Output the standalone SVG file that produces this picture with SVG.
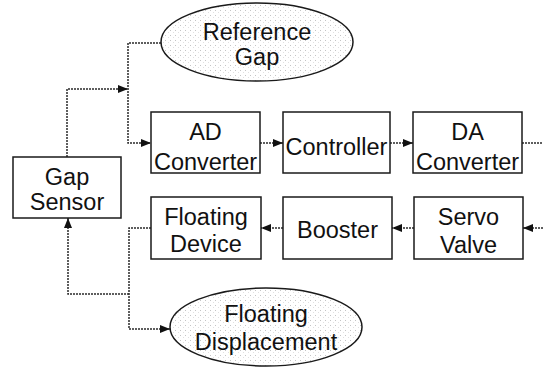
<svg xmlns="http://www.w3.org/2000/svg" width="543" height="367" viewBox="0 0 543 367">
  <defs>
    <!-- sparse stipple used inside the ellipses -->
    <pattern id="stipple" width="5" height="5" patternUnits="userSpaceOnUse">
      <rect width="5" height="5" fill="#ffffff"/>
      <rect x="0" y="0" width="1" height="1" fill="#c4c4c4"/>
      <rect x="3" y="2" width="1" height="1" fill="#e0e0e0"/>
    </pattern>
    <marker id="arrow" viewBox="0 0 10 8" refX="10" refY="4" markerWidth="10" markerHeight="8" markerUnits="userSpaceOnUse" orient="auto">
      <path d="M0,0 L10,4 L0,8 Z" fill="#111"/>
    </marker>
  </defs>
  <style>
    .box { fill: #fff; stroke: #1a1a1a; stroke-width: 1.5; }
    .oval { fill: url(#stipple); stroke: #1a1a1a; stroke-width: 1.5; }
    .label { font-family: "Liberation Sans", Arial, sans-serif; font-size: 23.5px; fill: #111; text-anchor: middle; }
    .link { fill: none; stroke: #2a2a2a; stroke-width: 1.5; stroke-dasharray: 2 1; }
  </style>

  <rect width="543" height="367" fill="#ffffff"/>

  <!-- connectors -->
  <g id="connectors">
    <path class="link" d="M67,157 V89 H128" marker-end="url(#arrow)"/>
    <path class="link" d="M161,43 H128 V143 H151" marker-end="url(#arrow)"/>
    <path class="link" d="M260,143 H283" marker-end="url(#arrow)"/>
    <path class="link" d="M390,143 H413" marker-end="url(#arrow)"/>
    <path class="link" d="M522,143 H543"/>
    <path class="link" d="M543,228 H523" marker-end="url(#arrow)"/>
    <path class="link" d="M414,228 H392" marker-end="url(#arrow)"/>
    <path class="link" d="M283,228 H261" marker-end="url(#arrow)"/>
    <path class="link" d="M151,228 H129 V329 H170" marker-end="url(#arrow)"/>
    <path class="link" d="M129,294 H68 V218" marker-end="url(#arrow)"/>
  </g>

  <g id="reference-gap">
    <ellipse class="oval" cx="257" cy="42" rx="96" ry="39"/>
    <text class="label" x="257" y="40">Reference</text>
    <text class="label" x="257" y="65">Gap</text>
  </g>

  <g id="ad-converter">
    <rect class="box" x="151" y="112" width="109" height="61"/>
    <text class="label" x="205.5" y="140">AD</text>
    <text class="label" x="205.5" y="170">Converter</text>
  </g>

  <g id="controller">
    <rect class="box" x="283" y="112" width="107" height="61"/>
    <text class="label" x="336.5" y="155">Controller</text>
  </g>

  <g id="da-converter">
    <rect class="box" x="413" y="112" width="109" height="61"/>
    <text class="label" x="467.5" y="140">DA</text>
    <text class="label" x="467.5" y="170">Converter</text>
  </g>

  <g id="gap-sensor">
    <rect class="box" x="13" y="157" width="108" height="61"/>
    <text class="label" x="67" y="185">Gap</text>
    <text class="label" x="67" y="210">Sensor</text>
  </g>

  <g id="floating-device">
    <rect class="box" x="151" y="197" width="110" height="62"/>
    <text class="label" x="206" y="225">Floating</text>
    <text class="label" x="206" y="252">Device</text>
  </g>

  <g id="booster">
    <rect class="box" x="283" y="197" width="109" height="62"/>
    <text class="label" x="337.5" y="238">Booster</text>
  </g>

  <g id="servo-valve">
    <rect class="box" x="414" y="197" width="109" height="62"/>
    <text class="label" x="468.5" y="225">Servo</text>
    <text class="label" x="468.5" y="253">Valve</text>
  </g>

  <g id="floating-displacement">
    <ellipse class="oval" cx="266" cy="327" rx="96" ry="39"/>
    <text class="label" x="266" y="322">Floating</text>
    <text class="label" x="266" y="350">Displacement</text>
  </g>
</svg>
